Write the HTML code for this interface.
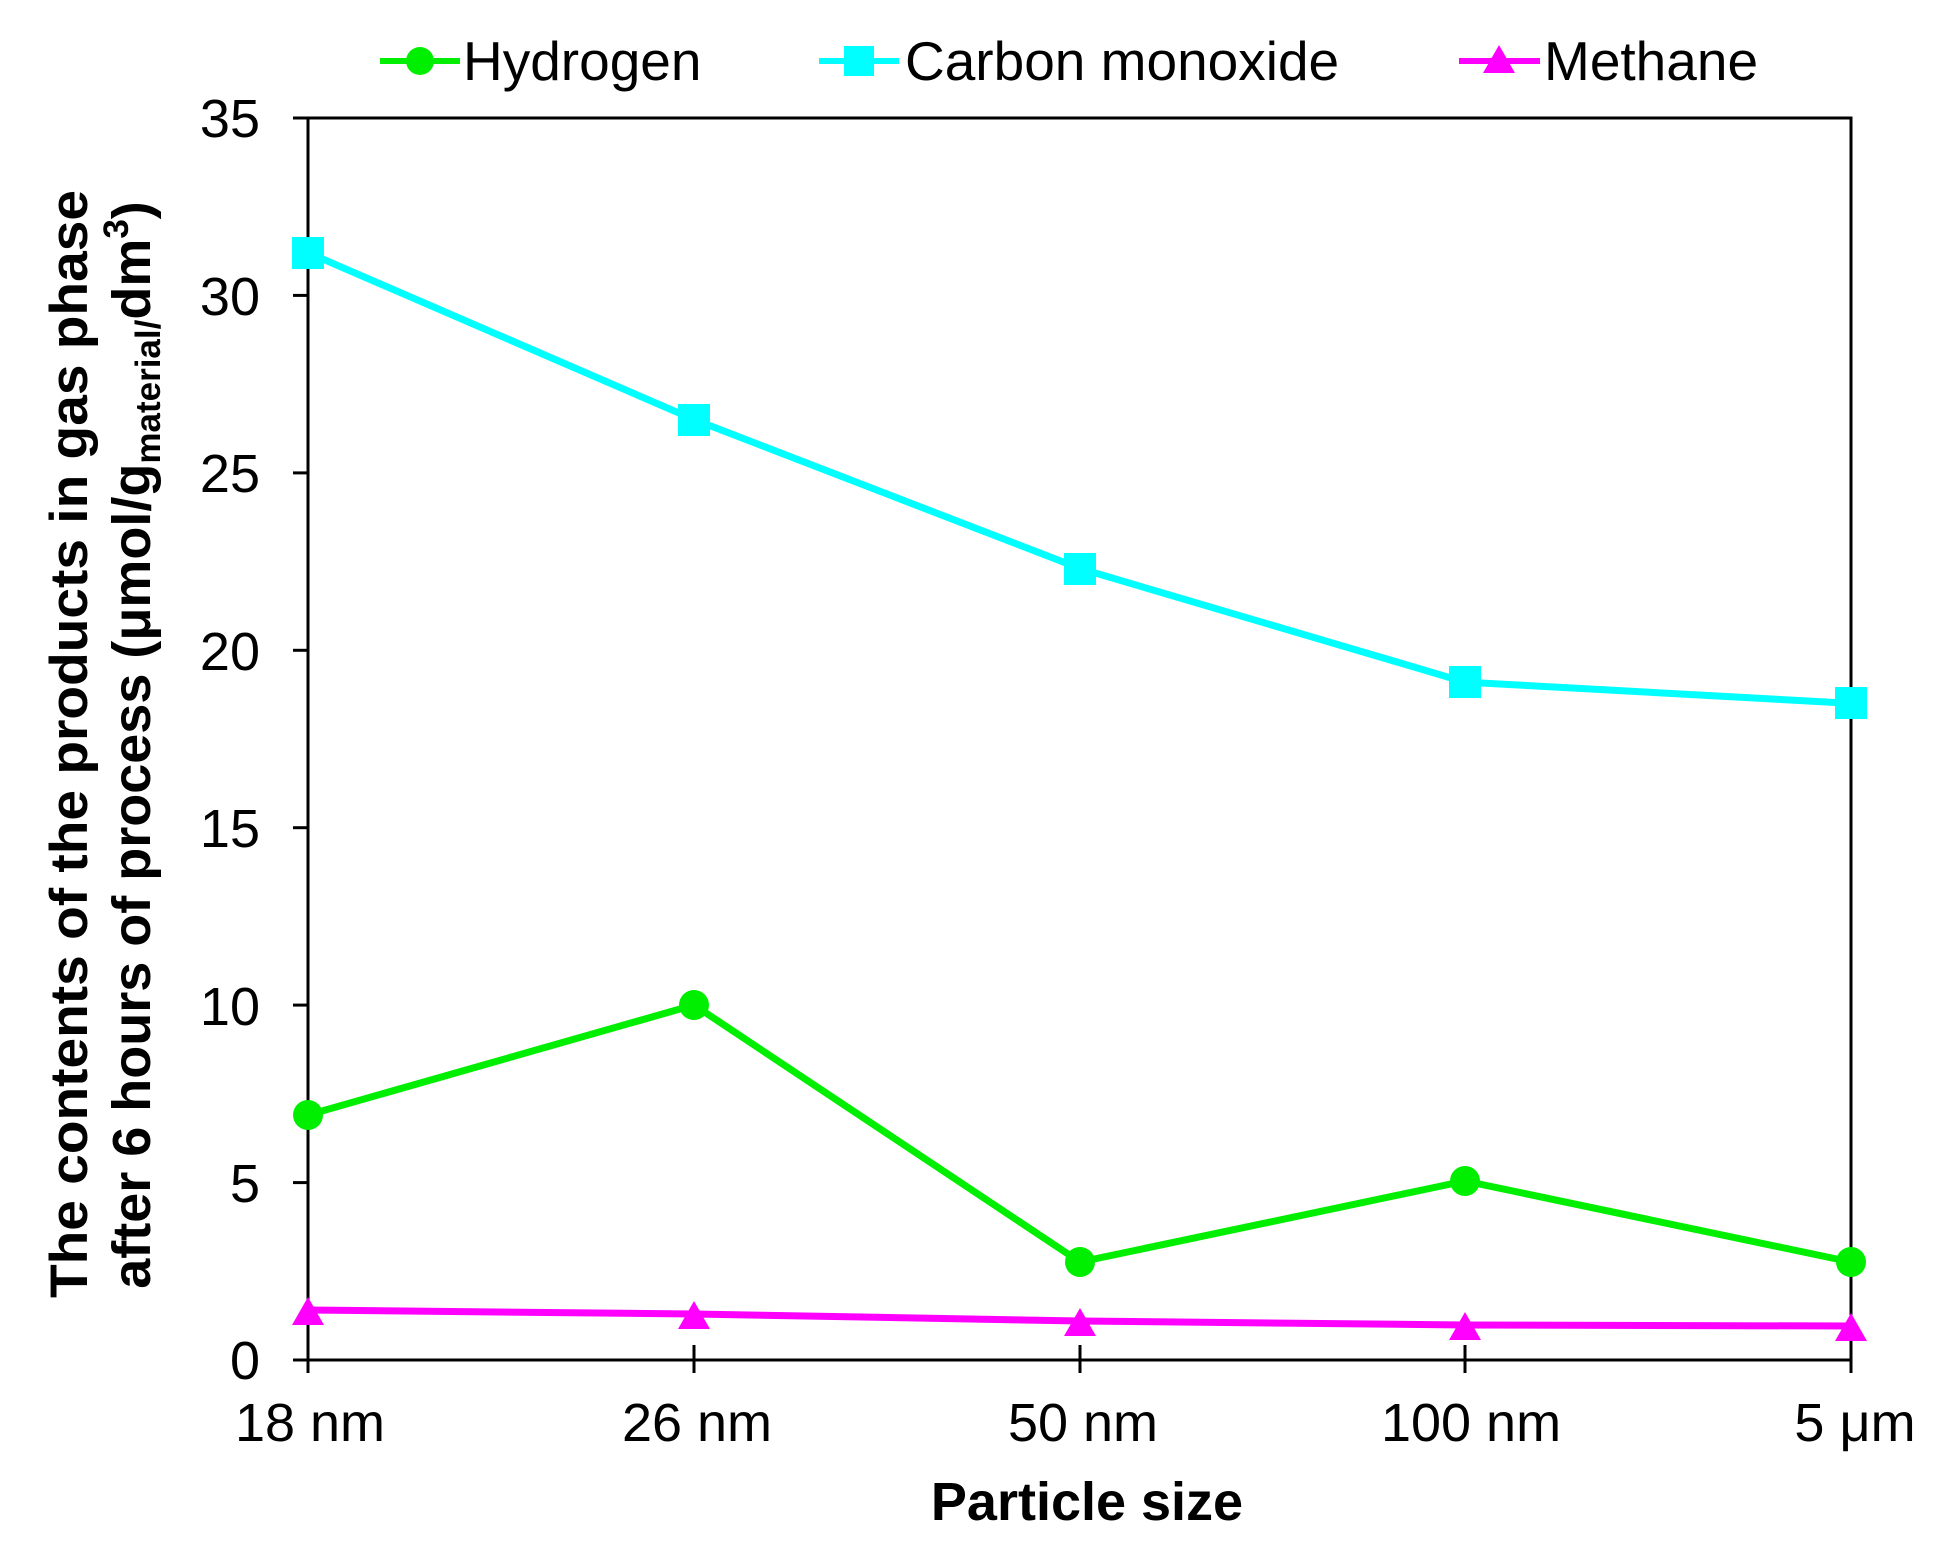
<!DOCTYPE html>
<html><head><meta charset="utf-8"><style>
html,body{margin:0;padding:0;background:#fff;}
svg{display:block;}
text{font-family:"Liberation Sans",Arial,sans-serif;fill:#000;}
</style></head><body>
<svg width="1942" height="1550" viewBox="0 0 1942 1550" xmlns="http://www.w3.org/2000/svg">
<!-- legend -->
<line x1="380" y1="61" x2="460" y2="61" stroke="#00ee00" stroke-width="6"/>
<circle cx="420" cy="61" r="14" fill="#00ee00"/>
<text x="463" y="80" font-size="55">Hydrogen</text>
<line x1="819" y1="61" x2="899" y2="61" stroke="#00ffff" stroke-width="6"/>
<rect x="844" y="46" width="30" height="30" fill="#00ffff"/>
<text x="905" y="80" font-size="55">Carbon monoxide</text>
<line x1="1459" y1="61" x2="1540" y2="61" stroke="#ff00ff" stroke-width="6"/>
<polygon points="1499,45 1515,73 1483,73" fill="#ff00ff"/>
<text x="1544" y="80" font-size="55">Methane</text>

<!-- axes box -->
<rect x="308" y="118" width="1543" height="1242" fill="none" stroke="#000" stroke-width="3"/>
<g stroke="#000" stroke-width="3">
<line x1="293" y1="118" x2="308" y2="118"/>
<line x1="293" y1="295.4" x2="308" y2="295.4"/>
<line x1="293" y1="472.9" x2="308" y2="472.9"/>
<line x1="293" y1="650.3" x2="308" y2="650.3"/>
<line x1="293" y1="827.7" x2="308" y2="827.7"/>
<line x1="293" y1="1005.1" x2="308" y2="1005.1"/>
<line x1="293" y1="1182.6" x2="308" y2="1182.6"/>
<line x1="293" y1="1360" x2="308" y2="1360"/>
<line x1="308" y1="1360" x2="308" y2="1373"/>
<line x1="694" y1="1345" x2="694" y2="1373"/>
<line x1="1080" y1="1345" x2="1080" y2="1373"/>
<line x1="1465" y1="1345" x2="1465" y2="1373"/>
<line x1="1851" y1="1360" x2="1851" y2="1373"/>
</g>
<g font-size="54" text-anchor="end">
<text x="260" y="137">35</text>
<text x="260" y="315">30</text>
<text x="260" y="492">25</text>
<text x="260" y="670">20</text>
<text x="260" y="847">15</text>
<text x="260" y="1025">10</text>
<text x="260" y="1202">5</text>
<text x="260" y="1379">0</text>
</g>
<g font-size="54" text-anchor="middle">
<text x="310" y="1441">18 nm</text>
<text x="697" y="1441">26 nm</text>
<text x="1083" y="1441">50 nm</text>
<text x="1471" y="1441">100 nm</text>
<text x="1855" y="1441">5 μm</text>
</g>
<text x="1087" y="1520" font-size="54" font-weight="bold" text-anchor="middle">Particle size</text>

<!-- y title -->
<text transform="translate(87,744) rotate(-90)" font-size="53" font-weight="bold" text-anchor="middle" textLength="1108" lengthAdjust="spacingAndGlyphs">The contents of the products in gas phase</text>
<text transform="translate(150,745) rotate(-90)" font-size="54" font-weight="bold" text-anchor="middle">after 6 hours of process (μmol/g<tspan font-size="35" dy="10">material/</tspan><tspan dy="-10">dm</tspan><tspan font-size="35" dy="-22">3</tspan><tspan dy="22">)</tspan></text>

<!-- series -->
<g fill="none" stroke-width="7" stroke-linejoin="round">
<polyline stroke="#00ffff" points="308,252.7 694,419.5 1080,568.5 1465,682.1 1851,703.4"/>
<polyline stroke="#00ee00" points="308,1115 694,1005 1080,1262 1465,1181 1851,1262"/>
<polyline stroke="#ff00ff" points="308,1310 694,1314 1080,1321 1465,1325 1851,1326"/>
</g>
<g fill="#00ffff">
<rect x="292" y="237" width="32" height="32"/>
<rect x="678" y="404" width="32" height="32"/>
<rect x="1064" y="553" width="32" height="32"/>
<rect x="1449" y="666" width="32" height="32"/>
<rect x="1835" y="687" width="32" height="32"/>
</g>
<g fill="#00ee00">
<circle cx="308" cy="1115" r="15"/>
<circle cx="694" cy="1005" r="15"/>
<circle cx="1080" cy="1262" r="15"/>
<circle cx="1465" cy="1181" r="15"/>
<circle cx="1851" cy="1262" r="15"/>
</g>
<g fill="#ff00ff">
<polygon points="308,1297 324,1325 292,1325"/>
<polygon points="694,1301 710,1329 678,1329"/>
<polygon points="1080,1308 1096,1336 1064,1336"/>
<polygon points="1465,1312 1481,1340 1449,1340"/>
<polygon points="1851,1313 1867,1341 1835,1341"/>
</g>
</svg>
</body></html>
